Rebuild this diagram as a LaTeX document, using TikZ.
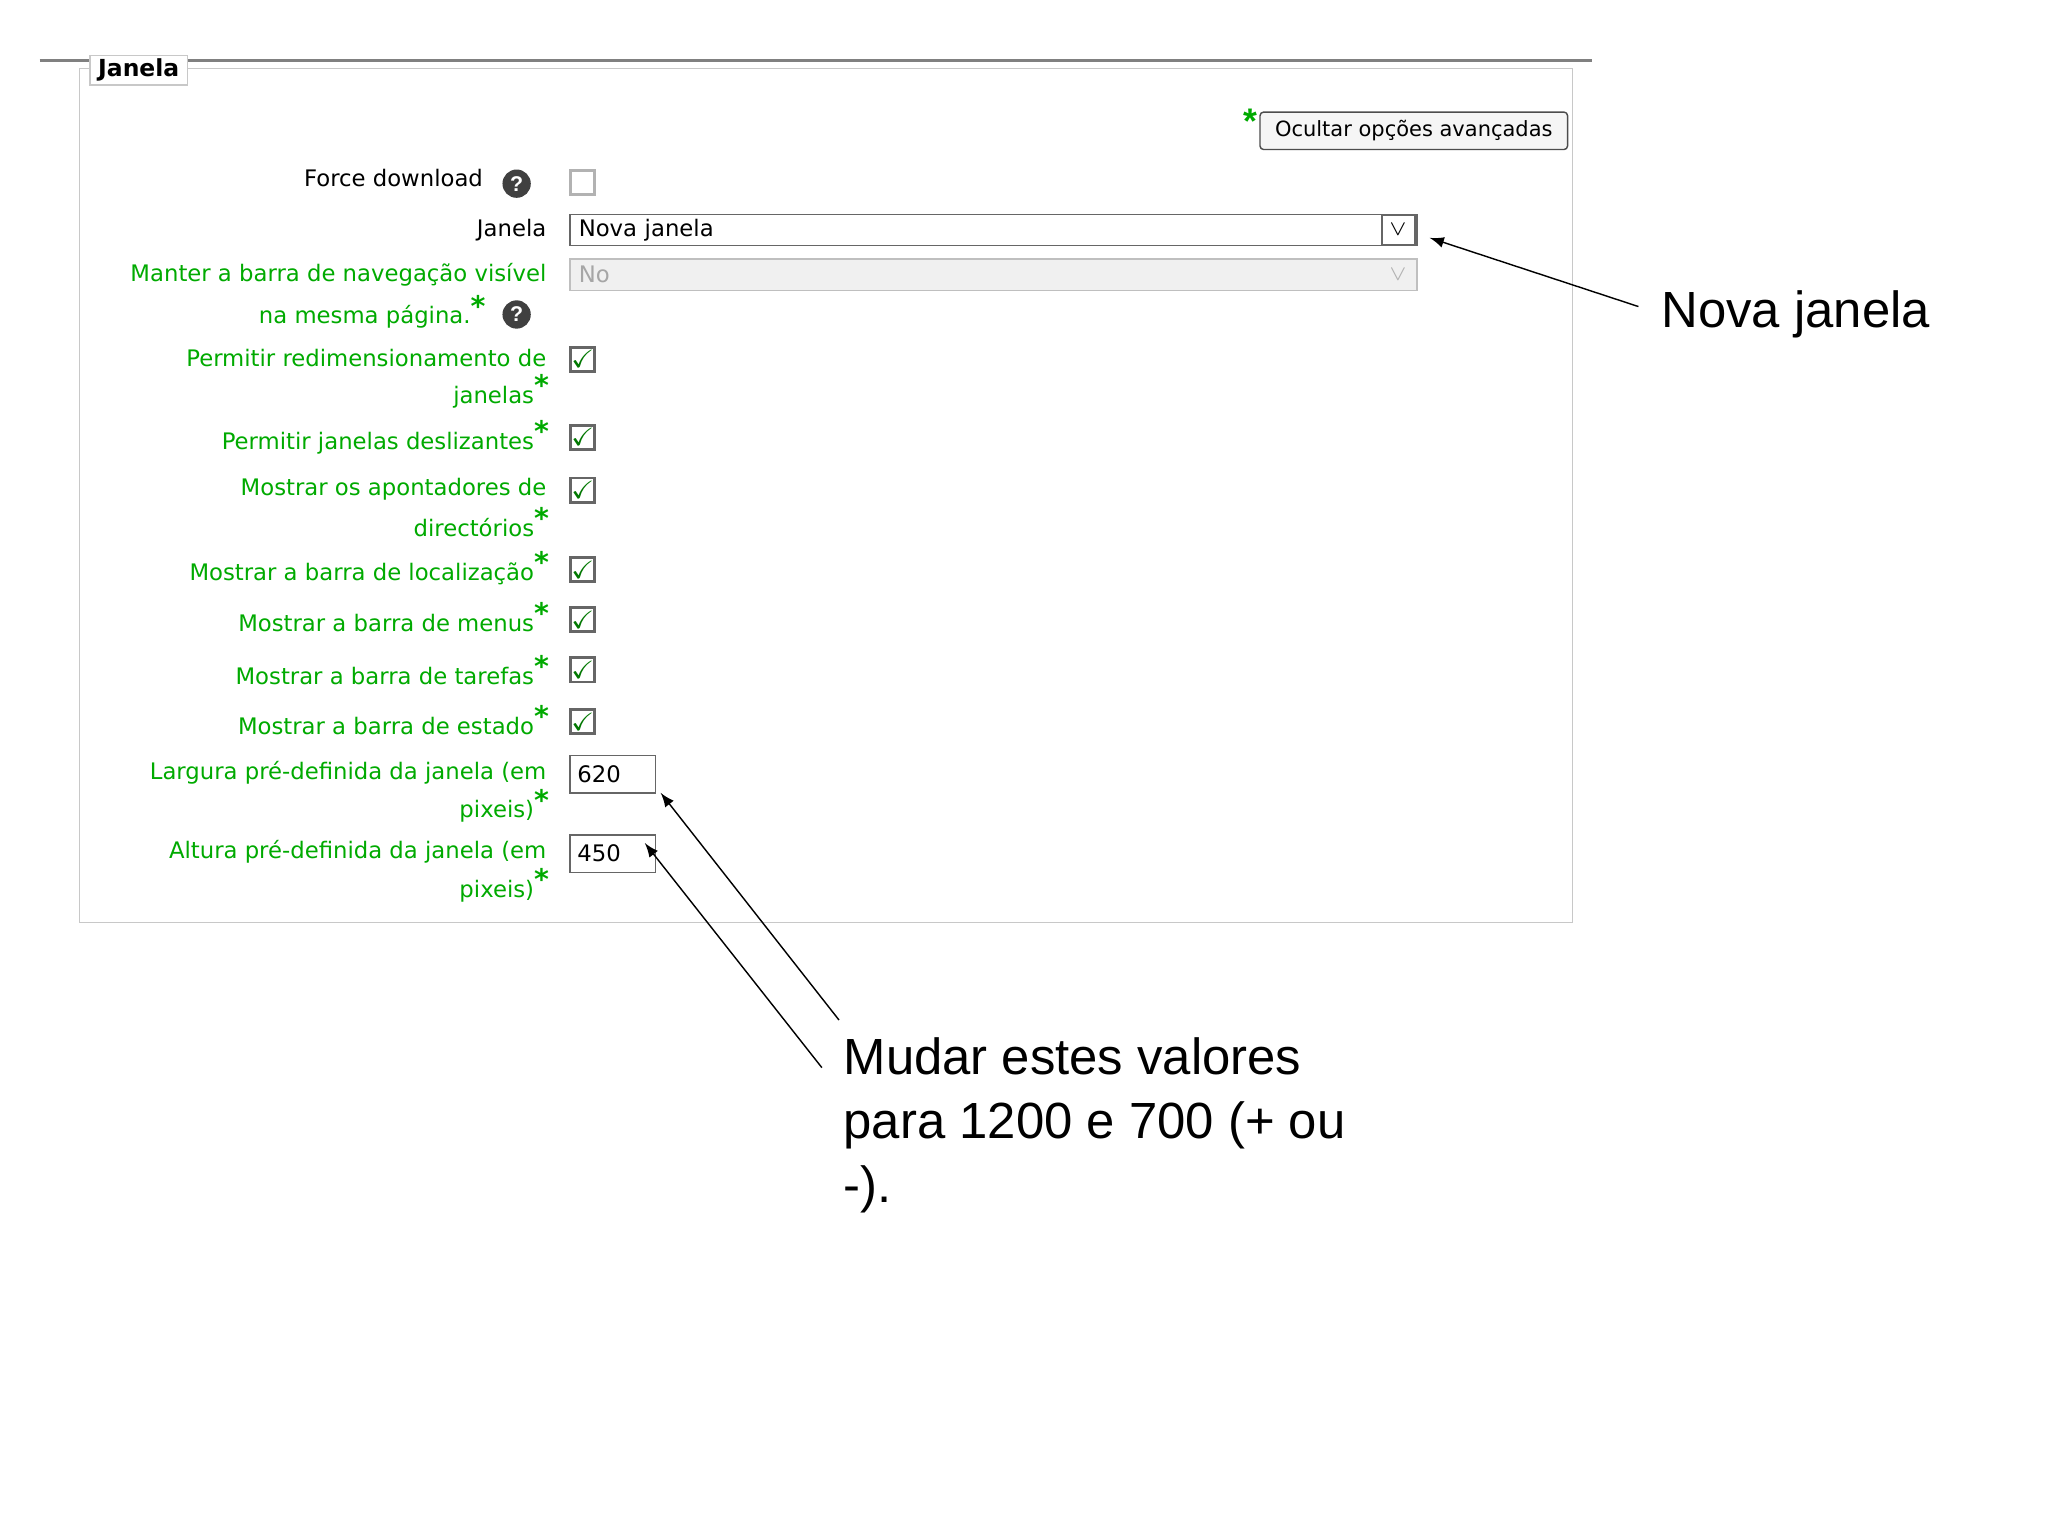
\documentclass[tikz,border=0pt]{standalone}
\usepackage{amssymb}
\usepackage{fontspec}
\setmainfont{Liberation Sans}
\newfontfamily\formfont{DejaVu Sans}
\usetikzlibrary{calc}
\definecolor{formgreen}{RGB}{0,170,0}
\definecolor{boxgray}{RGB}{200,200,200}
\newcommand{\gstar}{\raisebox{0.6ex}{\fontsize{8}{8}\selectfont\bfseries *}}
\begin{document}
\begin{tikzpicture}[x=0.013056cm,y=-0.013056cm,
  lbl/.style={anchor=east,inner sep=0pt,font=\formfont\fontsize{6.4}{7}\selectfont,text=formgreen},
  blk/.style={lbl,text=black},
  cb/.style={draw=black!60,thick,minimum size=0.24cm,inner sep=0pt},
  call/.style={font=\fontsize{14.3}{18}\selectfont,anchor=west,inner sep=0pt,align=left},
  help/.style={circle,fill=black!75,text=white,inner sep=0pt,minimum size=0.28cm,font=\bfseries\fontsize{6}{6}\selectfont}]
\useasboundingbox (0,0) rectangle (1550,1162);
\fill[white] (0,0) rectangle (1550,1162);

% frame
\draw[black!50,thick] (30,46) -- (1205,46);
\draw[boxgray] (60,52) rectangle (1190,698);
\node[draw=boxgray,fill=white,inner sep=1pt,minimum width=0.96cm,font=\formfont\bfseries\fontsize{6.6}{7}\selectfont] (legend) at (105,53) {Janela};

% button
\node[text=formgreen,font=\bfseries] (bstar) at (946,92) {*};
\node[draw=black!70,fill=black!4,rounded corners=1pt,minimum width=3.04cm,minimum height=0.37cm,inner sep=0pt,font=\formfont\fontsize{5.9}{7}\selectfont] (btn) at (1070,99) {Ocultar opções avançadas};

% rows
\node[blk] (l1) at (366,135) {Force download};
\node[help] (h1) at (391,139) {?};
\node[cb,draw=black!30] (c1) at (441,138) {};
\node[blk] (l2) at (414,174) {Janela};
\node[draw=black!60,minimum width=8.37cm,minimum height=0.31cm,inner sep=1pt,anchor=west,font=\formfont\fontsize{6.4}{7}\selectfont,text width=8.2cm] (sel) at (431,174) {Nova janela};
\draw[black!60] (1046,163) rectangle (1071,185);
\node[font=\fontsize{6}{6}\selectfont] (selarr) at (1058,174) {$\vee$};
\node[lbl] (l3) at (414,208) {Manter a barra de navegação visível};
\node[lbl] (l3b) at (368,236) {na mesma página.\gstar};
\node[help] (h2) at (391,238) {?};
\node[draw=black!25,fill=black!6,minimum width=8.37cm,minimum height=0.31cm,inner sep=1pt,anchor=west,text=black!35,font=\formfont\fontsize{6.4}{7}\selectfont,text width=8.2cm] (sel2) at (431,208) {No};
\node[font=\fontsize{6}{6}\selectfont,text=black!30] (selarr2) at (1058,208) {$\vee$};

\foreach \y/\t [count=\i] in {271/Permitir redimensionamento de,370/Mostrar os apontadores de,585/Largura pré-definida da janela (em,645/Altura pré-definida da janela (em}
  \node[lbl] (ta\i) at (414,\y) {\t};
\foreach \y/\t [count=\i] in {296/janelas,331/Permitir janelas deslizantes,395/directórios,430/Mostrar a barra de localização,467/Mostrar a barra de menus,507/Mostrar a barra de tarefas,545/Mostrar a barra de estado,610/pixeis),670/pixeis)}
  \node[lbl] (tb\i) at (416,\y) {\t\gstar};
\foreach \y [count=\i] in {272,331,371,431,469,507,546}
  \node[cb] (k\i) at (441,\y) {\textcolor{formgreen!70!black}{\scriptsize$\checkmark$}};

\node[draw=black!60,minimum width=0.84cm,minimum height=0.37cm,anchor=west,inner sep=2pt,text width=0.7cm,font=\formfont\fontsize{6.4}{7}\selectfont] (w) at (431,586) {620};
\node[draw=black!60,minimum width=0.84cm,minimum height=0.37cm,anchor=west,inner sep=2pt,text width=0.7cm,font=\formfont\fontsize{6.4}{7}\selectfont] (h) at (431,646) {450};

% callouts
\node[call] (nova) at (1257,238) {Nova janela};
\node[call,anchor=north west] (mudar) at (638,785) {Mudar estes valores\\para 1200 e 700 (+ ou\\-).};
\coordinate (a1) at (1240,232);
\coordinate (a2) at (635,772);
\coordinate (a3) at (622,808);
\draw[-latex] (a1) -- (1082,180);
\draw[-latex] (a2) -- (500,600);
\draw[-latex] (a3) -- (488,638);
\end{tikzpicture}
\end{document}
